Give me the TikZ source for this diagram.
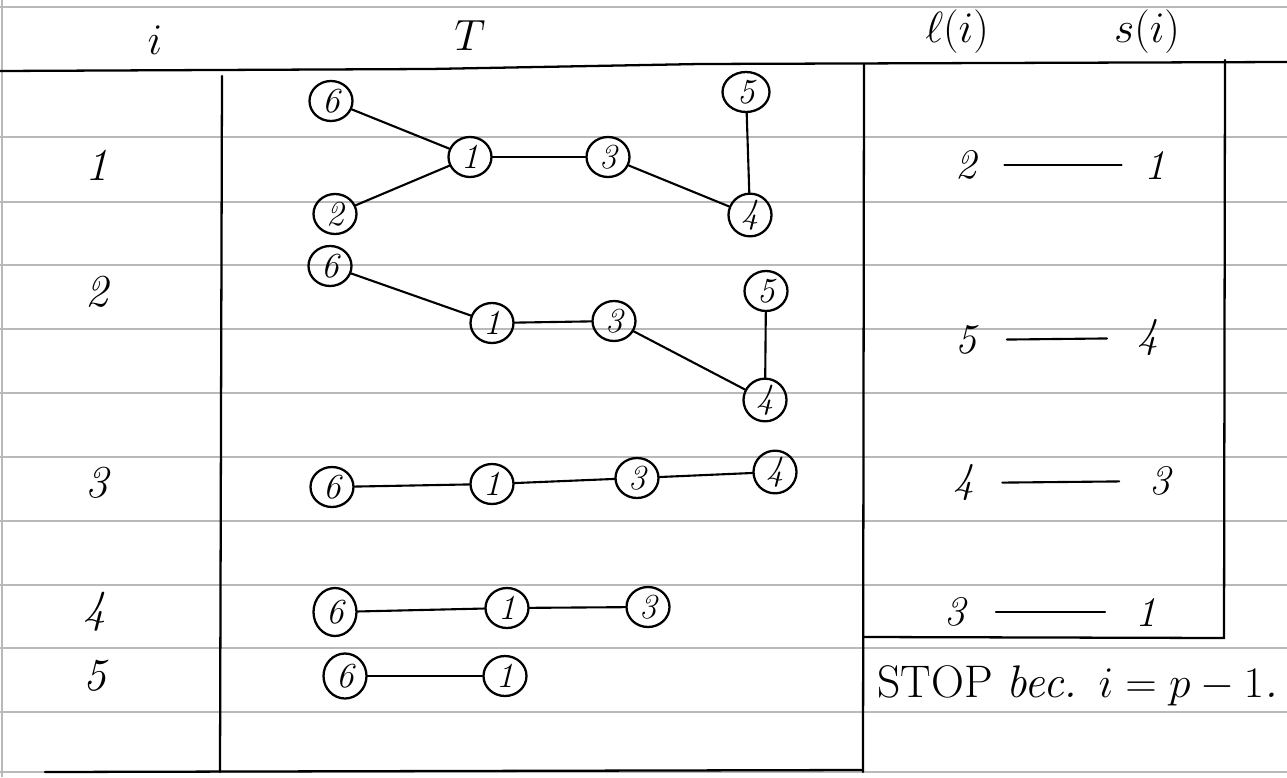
\documentclass[tikz,border=0pt]{standalone}
\usetikzlibrary{shapes.geometric}
\begin{document}
\begin{tikzpicture}[x=0.02cm,y=-0.02cm,
  ink/.style={line width=1.3pt,line cap=round},
  ruled/.style={gray!55,line width=0.7pt},
  vtx/.style={ellipse,draw,line width=1.3pt,minimum width=0.86cm,minimum height=0.8cm,inner sep=0pt,font=\fontsize{20}{22}\selectfont\itshape},
  lbl/.style={inner sep=0pt,font=\fontsize{26}{30}\selectfont\itshape},
  num/.style={inner sep=0pt,font=\fontsize{24}{28}\selectfont\itshape},
  edge/.style={line width=1.2pt,line cap=round}]
\useasboundingbox (0,0) rectangle (1287,777);
\fill[white] (0,0) rectangle (1287,777);
% ruled paper
\foreach \yy in {7,137,202,265,329,393,457,521,585,648,712,772}
  \draw[ruled] (0,\yy) -- (1287,\yy);
\draw[ruled] (2,0) -- (2,777);
% header
\node[lbl] (hi) at (155,40) {$i$};
\node[lbl] (hT) at (470,36) {$T$};
\node[lbl] (hl) at (957,32) {$\ell(i)$};
\node[lbl] (hs) at (1147,32) {$s(i)$};
\draw[ink] (0,71) -- (430,69) -- (700,64) -- (1287,62);
% table frame
\draw[ink] (222,76) -- (220,772);
\draw[ink] (864,64) -- (863,772);
\draw[ink] (1225,60) -- (1224,638) -- (864,637);
\draw[ink] (45,772) -- (863,770);
% row labels
\node[lbl] (r1) at (97,165) {1};
\node[lbl] (r2) at (97,292) {2};
\node[lbl] (r3) at (97,483) {3};
\node[lbl] (r4) at (95,612) {4};
\node[lbl] (r5) at (95,676) {5};
% row 1
\node[vtx] (a6) at (331,101) {6};
\node[vtx] (a1) at (470,157) {1};
\node[vtx] (a3) at (608,157) {3};
\node[vtx,minimum width=0.94cm] (a5) at (746,92) {5};
\node[vtx] (a4) at (750,215) {4};
\node[vtx] (a2) at (335,214) {2};
\draw[edge] (a6) -- (a1);
\draw[edge] (a2) -- (a1);
\draw[edge] (a1) -- (a3);
\draw[edge] (a3) -- (a4);
\draw[edge] (a5) -- (a4);
% row 2
\node[vtx] (b6) at (330,266) {6};
\node[vtx] (b1) at (492,323) {1};
\node[vtx] (b3) at (614,321) {3};
\node[vtx] (b5) at (766,291) {5};
\node[vtx] (b4) at (765,400) {4};
\draw[edge] (b6) -- (b1);
\draw[edge] (b1) -- (b3);
\draw[edge] (b3) -- (b4);
\draw[edge] (b5) -- (b4);
% row 3
\node[vtx] (c6) at (332,487) {6};
\node[vtx] (c1) at (492,484) {1};
\node[vtx] (c3) at (637,478) {3};
\node[vtx] (c4) at (775,472) {4};
\draw[edge] (c6) -- (c1);
\draw[edge] (c1) -- (c3);
\draw[edge] (c3) -- (c4);
% row 4
\node[vtx,minimum height=0.96cm] (d6) at (335,612) {6};
\node[vtx] (d1) at (507,608) {1};
\node[vtx] (d3) at (648,607) {3};
\draw[edge] (d6) -- (d1);
\draw[edge] (d1) -- (d3);
% row 5
\node[vtx,minimum height=0.9cm] (e6) at (345,676) {6};
\node[vtx] (e1) at (505,676) {1};
\draw[edge] (e6) -- (e1);
% l(i) -- s(i)
\node[num] (l1) at (966,165) {2};
\node[num] (s1) at (1155,165) {1};
\draw[edge,shorten <=0.55cm,shorten >=0.45cm] (l1) -- (s1);
\node[num] (l2) at (966,340) {5};
\node[num] (s2) at (1148,338) {4};
\draw[edge,shorten <=0.6cm,shorten >=0.6cm] (l2) -- (s2);
\node[num] (l3) at (964,483) {4};
\node[num] (s3) at (1160,481) {3};
\draw[edge,shorten <=0.55cm,shorten >=0.6cm] (l3) -- (s3);
\node[num] (l4) at (955,612) {3};
\node[num] (s4) at (1146,612) {1};
\draw[edge,shorten <=0.6cm,shorten >=0.6cm] (l4) -- (s4);
% stop note
\node[lbl,anchor=west] (stop) at (877,686) {\upshape STOP \itshape bec. $i=p-1$.};
\end{tikzpicture}
\end{document}
